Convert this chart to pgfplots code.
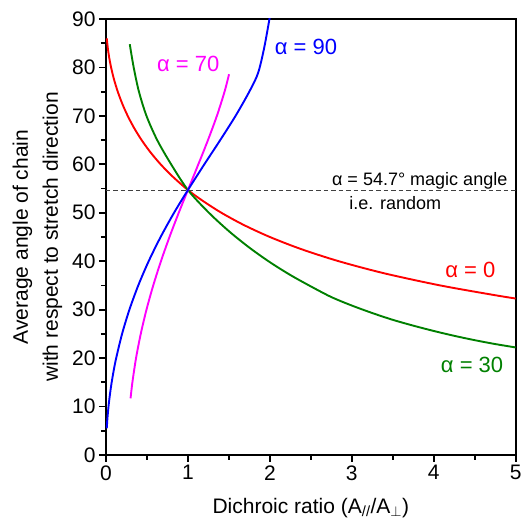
\documentclass[border=0pt]{standalone}
\usepackage{fontspec}
\setmainfont{Liberation Sans}
\usepackage{pgfplots}
\pgfplotsset{compat=1.18}
\definecolor{cred}{RGB}{255,0,0}
\definecolor{cgreen}{RGB}{0,128,0}
\definecolor{cblue}{RGB}{0,0,255}
\definecolor{cmag}{RGB}{255,0,255}
\begin{document}
\begin{tikzpicture}
\begin{axis}[name=ax, scale only axis, width=409.7pt, height=436pt,
  xmin=0, xmax=5, ymin=0, ymax=90,
  xtick={0,1,2,3,4,5}, ytick={0,10,...,90},
  minor xtick={0.5,1.5,2.5,3.5,4.5}, minor ytick={5,15,...,85},
  tick align=outside, tick pos=left,
  major tick length=7pt, minor tick length=5pt,
  every tick/.style={black, line width=1.8pt},
  axis line style={line width=2pt},
  /pgf/number format/assume math mode=true,
  ticklabel style={font=\fontsize{21}{24}\selectfont},
  label style={font=\fontsize{21}{30}\selectfont},
  xlabel={Dichroic ratio (A\textsubscript{//}/A$_\perp$)},
  xlabel style={yshift=-11pt},
  ylabel={Average angle of chain\\with respect to stretch direction},
  ylabel style={align=center, yshift=3pt},
  every axis plot/.append style={line width=1.9pt, smooth},
]
% alpha = 0
\addplot[cred] coordinates {
(0.00978,86) (0.0221,84) (0.0395,82) (0.0622,80) (0.0983,77.5) (0.1436,75) (0.1988,72.5)
(0.2650,70) (0.3431,67.5) (0.4349,65) (0.5420,62.5) (0.6667,60) (0.8118,57.5) (1.0,54.7)
(1.1775,52.5) (1.4082,50) (1.6793,47.5) (2.0,45) (2.3819,42.5) (2.8406,40) (3.3967,37.5)
(4.0790,35) (4.7426,33) (5.0,32.3)};
% alpha = 30
\addplot[cgreen] coordinates {
(0.29,84.8) (0.338,80) (0.402,75) (0.494,70) (0.625,65) (0.795,60) (1.0,54.7)
(1.25,50.1) (1.5,46.2) (1.75,42.8) (2.0,39.8) (2.25,37.15) (2.5,34.8) (2.75,32.6)
(3.0,30.85) (3.25,29.3) (3.5,27.9) (3.75,26.7) (4.0,25.6) (4.25,24.6) (4.5,23.7)
(4.75,22.9) (5.0,22.2)};
% alpha = 70
\addplot[cmag] coordinates {
(0.2997,11.7) (0.3221,15) (0.3667,20) (0.4241,25) (0.4941,30) (0.5765,35) (0.6705,40)
(0.7749,45) (0.8878,50) (1.0,54.7) (1.1269,60) (1.2444,65) (1.3532,70) (1.4469,75) (1.5016,78.6)};
% alpha = 90
\addplot[cblue] coordinates {
(0.00923,5.5) (0.01718,7.5) (0.03061,10) (0.04797,12.5) (0.06931,15) (0.09471,17.5)
(0.12425,20) (0.19612,25) (0.28571,30) (0.39376,35) (0.52076,40) (0.66667,45) (0.8305,50)
(1.0,54.7) (1.2,60) (1.39383,65) (1.58109,70) (1.74887,75) (1.855,78.8) (1.93,84) (2.0,90.5)};
\addplot[black!75, line width=0.9pt, dash pattern=on 4.5pt off 3pt, sharp plot] coordinates {(0,54.7) (5,54.7)};
\node[anchor=base east, font=\fontsize{18}{20}\selectfont, inner sep=0pt] at (axis cs:4.9,55.6) {α = 54.7° magic angle};
\node[anchor=base, font=\fontsize{18}{20}\selectfont, inner sep=0pt] at (axis cs:3.53,50.6) {i.e. random};
\node[anchor=base east, text=cred, font=\fontsize{22}{24}\selectfont, inner sep=0pt] at (axis cs:4.755,36.7) {α = 0};
\node[anchor=base east, text=cgreen, font=\fontsize{22}{24}\selectfont, inner sep=0pt] at (axis cs:4.85,17.0) {α = 30};
\node[anchor=base west, text=cmag, font=\fontsize{22}{24}\selectfont, inner sep=0pt] at (axis cs:0.62,79.1) {α = 70};
\node[anchor=base west, text=cblue, font=\fontsize{22}{24}\selectfont, inner sep=0pt] at (axis cs:2.057,82.6) {α = 90};
\end{axis}
\pgfresetboundingbox
\path[use as bounding box] ([xshift=-106pt,yshift=-67pt]ax.south west) rectangle ([xshift=6.3pt,yshift=19pt]ax.north east);
\end{tikzpicture}
\end{document}
